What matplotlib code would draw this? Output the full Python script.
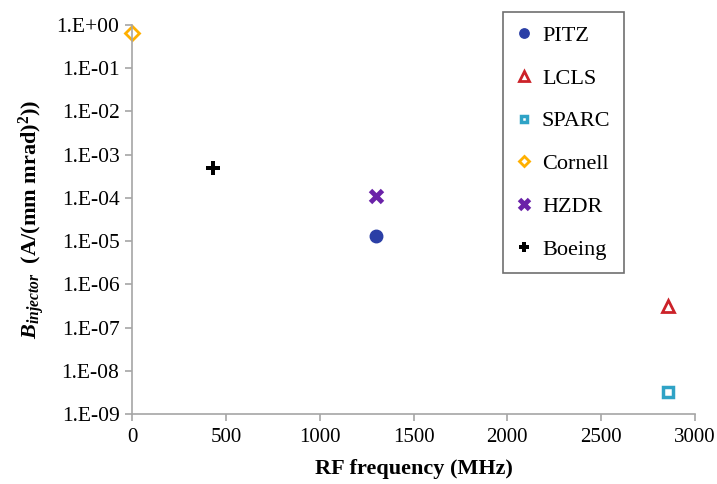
import matplotlib
matplotlib.use("Agg")
import matplotlib.pyplot as plt

plt.rcParams['font.family'] = ['Liberation Serif', 'DejaVu Serif']
plt.rcParams['mathtext.fontset'] = 'custom'
plt.rcParams['mathtext.it'] = 'Liberation Serif:italic:bold'
plt.rcParams['mathtext.rm'] = 'Liberation Serif:bold'
plt.rcParams['mathtext.bf'] = 'Liberation Serif:bold'

# facilities: RF frequency (MHz) and brightness
names = ["PITZ", "LCLS", "SPARC", "Cornell", "HZDR", "Boeing"]
freq = [1300, 2856, 2856, 0, 1300, 433]
bright = [1.3e-5, 3.2e-7, 3.2e-9, 0.65, 1.1e-4, 4.8e-4]

styles = {
    "PITZ": dict(marker="o", color="#2b3fa6", mfc="#2b3fa6", ms=9, mew=1),
    "LCLS": dict(marker="^", color="#cc2229", mfc="none", ms=9, mew=2),
    "SPARC": dict(marker="s", color="#2fa3c6", mfc="white", ms=6.5, mew=2.5),
    "Cornell": dict(marker="D", color="#ffb000", mfc="none", ms=7, mew=2),
    "HZDR": dict(marker="x", color="#6a22a8", ms=9, mew=3.5),
    "Boeing": dict(marker="P", color="black", mfc="black", ms=10, mew=0),
}

fig = plt.figure(figsize=(7.17, 4.84), dpi=100)
ax = fig.add_axes([132 / 717, 1 - 414 / 484, (695 - 132) / 717, (414 - 25) / 484])

for n, f, b in zip(names, freq, bright):
    ax.plot([f], [b], linestyle="none", label=n, clip_on=False, **styles[n])

ax.set_yscale("log")
ax.set_xlim(0, 3000)
ax.set_ylim(1e-9, 1)
ax.set_yticks([10.0 ** -k for k in range(0, 10)])
ax.set_yticklabels(["1.E+00"] + ["1.E-%02d" % k for k in range(1, 10)])
ax.minorticks_off()
ax.set_xticks(range(0, 3001, 500))

for s in ["top", "right"]:
    ax.spines[s].set_visible(False)
for s in ["left", "bottom"]:
    ax.spines[s].set_color("#a6a6a6")
    ax.spines[s].set_linewidth(1.2)
ax.tick_params(axis="both", colors="#a6a6a6", labelcolor="black", labelsize=15.5,
               length=5, width=1.2)
ax.tick_params(axis="x", pad=5, labelsize=15)
ax.tick_params(axis="y", pad=4)

ax.set_xlabel("RF frequency (MHz)", fontsize=16, fontweight="bold", labelpad=9)
ax.set_ylabel(r"$B_{injector}$  (A/(mm mrad)$^{2}$))", fontsize=16, fontweight="bold", labelpad=7)

leg = ax.legend(loc="upper left", bbox_to_anchor=(503 / 717, 1 - 12 / 484),
                bbox_transform=fig.transFigure, borderaxespad=0, fontsize=16,
                labelspacing=1.0, handlelength=0.7, handletextpad=0.45, borderpad=0.6,
                fancybox=False, edgecolor="#6f6f6f", framealpha=1, numpoints=1,
                markerscale=0.75)
leg.get_frame().set_linewidth(1.2)

fig.savefig("out.png", dpi=100)
